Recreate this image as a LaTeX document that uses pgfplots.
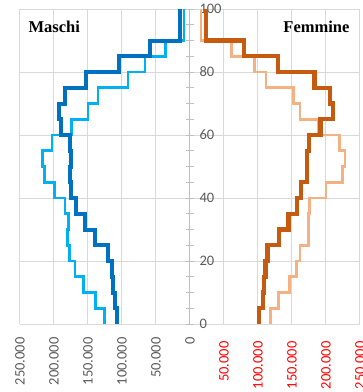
\documentclass[border=0pt]{standalone}
\usepackage{pgfplots}
\pgfplotsset{compat=1.18}
\usepackage{fontspec}
\setmainfont{Carlito}
\newfontfamily\titlefont{Liberation Serif}
\definecolor{dblue}{HTML}{0070C0}
\definecolor{lblue}{HTML}{00B0F0}
\definecolor{dorange}{HTML}{C55A11}
\definecolor{lorange}{HTML}{F4B183}
\definecolor{labc}{HTML}{595959}
\definecolor{gridc}{HTML}{D9D9D9}
\definecolor{axc}{HTML}{BFBFBF}
\begin{document}
\begin{tikzpicture}
\pgfplotsset{
  common/.style={
    scale only axis, width=170pt, height=315pt,
    xmin=0, xmax=250, ymin=0, ymax=100,
    grid=major, grid style={draw=gridc, line width=1pt},
    ytick={0,20,...,100},
    tick label style={font=\fontsize{14.5}{16}\selectfont},
    /pgf/number format/assume math mode=true,
    xticklabel style={rotate=90, anchor=east},
    xticklabel shift=10pt,
  }
}
% Maschi
\begin{axis}[common, name=L, at={(0pt,0pt)}, anchor=south west, x dir=reverse,
  axis line style={draw=none}, major tick length=0pt,
  xtick={0,50,100,150,200,250},
  xticklabels={0,50.000,100.000,150.000,200.000,250.000},
  xticklabel style={text=labc},
  yticklabels={},
]
\addplot[lblue, line width=2.6pt] coordinates {
(126,0)(126,5)(139,5)(139,10)(157,10)(157,15)(169,15)(169,20)(177,20)(177,25)
(180,25)(180,30)(179,30)(179,35)(184,35)(184,40)(199,40)(199,45)(214,45)(214,50)
(217,50)(217,55)(203,55)(203,60)(174,60)(174,65)(150,65)(150,70)(135,70)(135,75)
(91,75)(91,80)(66,80)(66,85)(36,85)(36,90)(9,90)(9,100)};
\addplot[dblue, line width=4pt] coordinates {
(107,0)(107,5)(110,5)(110,10)(113,10)(113,15)(115,15)(115,20)(121,20)(121,25)
(139,25)(139,30)(154,30)(154,35)(167,35)(167,40)(175,40)(175,45)(177,45)(177,50)
(175,50)(175,55)(177,55)(177,60)(189,60)(189,65)(192,65)(192,70)(184,70)(184,75)
(153,75)(153,80)(104,80)(104,85)(59,85)(59,90)(15,90)(15,100)};
\end{axis}
% Femmine
\begin{axis}[common, name=R, at={(170pt,0pt)}, anchor=south west,
  axis lines*=left, x axis line style={draw=none},
  y axis line style={draw=axc, line width=1pt},
  xtick={50,100,150,200,250},
  xticklabels={50.000,100.000,150.000,200.000,250.000},
  xticklabel style={text=red}, xtick style={draw=none},
  minor y tick num=3, tick align=center,
  major tick length=8pt, minor tick length=8pt,
  ytick style={draw=axc, line width=0.8pt},
  yticklabel style={anchor=west, xshift=10pt, text=labc},
]
\addplot[lorange, line width=2.6pt] coordinates {
(118,0)(118,5)(130,5)(130,10)(146,10)(146,15)(157,15)(157,20)(162,20)(162,25)
(174,25)(174,30)(174,30)(174,35)(176,35)(176,40)(200,40)(200,45)(224,45)(224,50)
(228,50)(228,55)(220,55)(220,60)(188,60)(188,65)(162,65)(162,70)(152,70)(152,75)
(112,75)(112,80)(95,80)(95,85)(61,85)(61,90)(16,90)(16,100)};
\addplot[dorange, line width=4.2pt] coordinates {
(102,0)(102,5)(107,5)(107,10)(109,10)(109,15)(111,15)(111,20)(114,20)(114,25)
(131,25)(131,30)(145,30)(145,35)(157,35)(157,40)(163,40)(163,45)(172,45)(172,50)
(172,50)(172,55)(175,55)(175,60)(192,60)(192,65)(210,65)(210,70)(206,70)(206,75)
(183,75)(183,80)(130,80)(130,85)(79,85)(79,90)(23,90)(23,100)};
\end{axis}
\node[font=\titlefont\bfseries\fontsize{16.5}{18}\selectfont, anchor=base west]
  at ([xshift=5pt,yshift=-23pt]L.north west) {Maschi};
\node[font=\titlefont\bfseries\fontsize{16.5}{18}\selectfont, anchor=base east]
  at ([xshift=-7pt,yshift=-23pt]R.north east) {Femmine};
\pgfresetboundingbox
\path (-20pt,-68pt) rectangle (343pt,324pt);
\end{tikzpicture}
\end{document}
